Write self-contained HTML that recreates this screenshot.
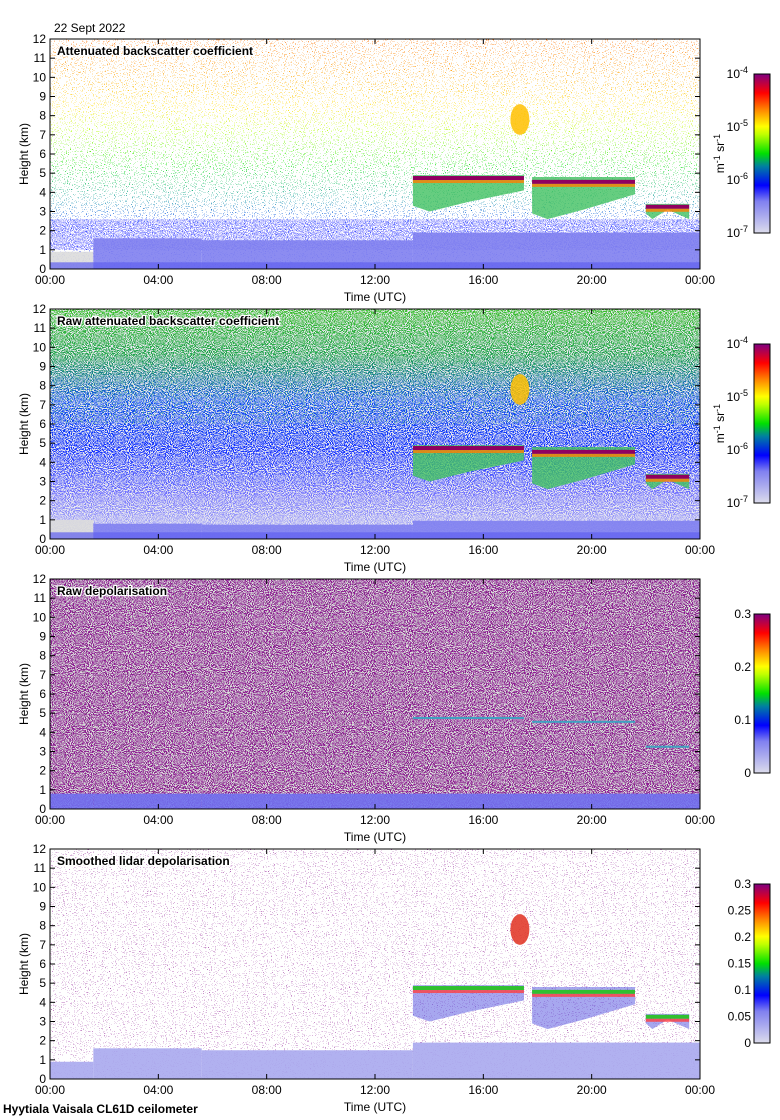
<!DOCTYPE html>
<html><head><meta charset="utf-8">
<style>
html,body{margin:0;padding:0;background:#fff;}
svg{display:block;font-family:"Liberation Sans",sans-serif;}
.t{font-size:12px;fill:#000}
.ttl{font-size:12px;font-weight:bold;fill:#000;stroke:#fff;stroke-width:2.5px;paint-order:stroke}
</style></head>
<body>
<svg id="fig" width="780" height="1120" viewBox="0 0 780 1120">
<defs>
  <filter id="n15" x="0" y="0" width="100%" height="100%" color-interpolation-filters="sRGB"><feTurbulence type="fractalNoise" baseFrequency="0.95" numOctaves="1" seed="3"/><feColorMatrix type="matrix" values="1 0 0 0 0 1 0 0 0 0 1 0 0 0 0 0 0 0 0 1"/><feComponentTransfer><feFuncR type="linear" slope="2.5" intercept="-0.75"/><feFuncG type="linear" slope="2.5" intercept="-0.75"/><feFuncB type="linear" slope="2.5" intercept="-0.75"/></feComponentTransfer><feComponentTransfer><feFuncR type="discrete" tableValues="0 0 0 0 0 0 0 0 1"/><feFuncG type="discrete" tableValues="0 0 0 0 0 0 0 0 1"/><feFuncB type="discrete" tableValues="0 0 0 0 0 0 0 0 1"/></feComponentTransfer></filter>
  <filter id="n50" x="0" y="0" width="100%" height="100%" color-interpolation-filters="sRGB"><feTurbulence type="fractalNoise" baseFrequency="0.95" numOctaves="1" seed="7"/><feColorMatrix type="matrix" values="1 0 0 0 0 1 0 0 0 0 1 0 0 0 0 0 0 0 0 1"/><feComponentTransfer><feFuncR type="discrete" tableValues="0 1"/><feFuncG type="discrete" tableValues="0 1"/><feFuncB type="discrete" tableValues="0 1"/></feComponentTransfer></filter>
  <filter id="n08" x="0" y="0" width="100%" height="100%" color-interpolation-filters="sRGB"><feTurbulence type="fractalNoise" baseFrequency="0.95" numOctaves="1" seed="11"/><feColorMatrix type="matrix" values="1 0 0 0 0 1 0 0 0 0 1 0 0 0 0 0 0 0 0 1"/><feComponentTransfer><feFuncR type="linear" slope="2.5" intercept="-0.75"/><feFuncG type="linear" slope="2.5" intercept="-0.75"/><feFuncB type="linear" slope="2.5" intercept="-0.75"/></feComponentTransfer><feComponentTransfer><feFuncR type="discrete" tableValues="0 0 0 0 0 0 0 0 0 0 0 0 0 0 1"/><feFuncG type="discrete" tableValues="0 0 0 0 0 0 0 0 0 0 0 0 0 0 1"/><feFuncB type="discrete" tableValues="0 0 0 0 0 0 0 0 0 0 0 0 0 0 1"/></feComponentTransfer></filter>
  <mask id="m15" maskUnits="userSpaceOnUse" x="0" y="0" width="780" height="1120"><rect x="0" y="0" width="780" height="1120" fill="#fff" filter="url(#n15)"/></mask>
  <mask id="m50" maskUnits="userSpaceOnUse" x="0" y="0" width="780" height="1120"><rect x="0" y="0" width="780" height="1120" fill="#fff" filter="url(#n50)"/></mask>
  <mask id="m08" maskUnits="userSpaceOnUse" x="0" y="0" width="780" height="1120"><rect x="0" y="0" width="780" height="1120" fill="#fff" filter="url(#n08)"/></mask>
  <linearGradient id="cbB" x1="0" y1="1" x2="0" y2="0">
    <stop offset="0" stop-color="#dcdcec"/><stop offset="0.2" stop-color="#8080f0"/><stop offset="0.3" stop-color="#0000ff"/>
    <stop offset="0.42" stop-color="#0080a0"/><stop offset="0.5" stop-color="#00e000"/><stop offset="0.62" stop-color="#c0ff00"/>
    <stop offset="0.67" stop-color="#ffff00"/><stop offset="0.78" stop-color="#ff8000"/><stop offset="0.88" stop-color="#ff0000"/>
    <stop offset="1" stop-color="#800080"/></linearGradient>
  <linearGradient id="g1" x1="0" y1="1" x2="0" y2="0">
    <stop offset="0" stop-color="#3030ff"/><stop offset="0.2" stop-color="#0030ff"/><stop offset="0.3" stop-color="#0090a0"/>
    <stop offset="0.45" stop-color="#00e000"/><stop offset="0.6" stop-color="#b0ff00"/><stop offset="0.7" stop-color="#ffe000"/>
    <stop offset="0.85" stop-color="#ffa000"/><stop offset="1" stop-color="#ff7000"/></linearGradient>
  <linearGradient id="g2" x1="0" y1="1" x2="0" y2="0">
    <stop offset="0" stop-color="#c0c0f4"/><stop offset="0.2" stop-color="#7070ff"/><stop offset="0.4" stop-color="#1030ff"/><stop offset="0.6" stop-color="#1050f0"/>
    <stop offset="0.8" stop-color="#20a050"/><stop offset="1" stop-color="#40c030"/></linearGradient>
</defs>
<g id="panels"></g>
<text class="t" x="54" y="32">22 Sept 2022</text>
<text class="t" x="3" y="1113" style="font-weight:bold">Hyytiala Vaisala CL61D ceilometer</text>
</svg>
<script>
// ---- data ----
const xTickLabels = ["00:00","04:00","08:00","12:00","16:00","20:00","00:00"];
const xTickHours = [0,4,8,12,16,20,24];
const yTickValues = [0,1,2,3,4,5,6,7,8,9,10,11,12];
const panelTitles = ["Attenuated backscatter coefficient","Raw attenuated backscatter coefficient","Raw depolarisation","Smoothed lidar depolarisation"];
const cbLabels1 = ["10","10","10","10"];
const cbExps1 = ["-7","-6","-5","-4"];
const cbLabels3 = ["0","0.1","0.2","0.3"];
const cbLabels4 = ["0","0.05","0.1","0.15","0.2","0.25","0.3"];
// boundary-layer segments: start hour, end hour, top height (km)
const blStart = [0, 1.6, 5.6, 13.4];
const blEnd   = [1.6, 5.6, 13.4, 24];
const blTop   = [0.9, 1.6, 1.5, 1.9];
// cloud layers: start, end, top, base, line height
const cloudStart = [13.4, 17.8, 22.0];
const cloudEnd   = [17.5, 21.6, 23.6];
const cloudTop   = [4.9, 4.8, 3.4];
const cloudBase  = [3.0, 2.6, 2.6];
const cloudLine  = [4.7, 4.5, 3.2];
// cirrus patch
const patchStart = [17.0], patchEnd = [17.7], patchTop = [8.6], patchBase = [7.0];

const NS = "http://www.w3.org/2000/svg";
const X0 = 50, X1 = 700, PH = 230;
const tops = [39, 309, 579, 849];
function xs(h){ return X0 + h/24*(X1-X0); }
function mk(tag, attrs, parent){ const e = document.createElementNS(NS, tag); for (const k in attrs) e.setAttribute(k, attrs[k]); parent.appendChild(e); return e; }
const root = document.getElementById('panels');

tops.forEach((top, p) => {
  const bot = top + PH;
  const ys = h => bot - h/12*PH;
  const g = mk('g', {}, root);
  
  
  const cp = mk('clipPath', {id: 'cp'+p}, g);
  mk('rect', {x: X0, y: top, width: X1-X0, height: PH}, cp);
  const plot = mk('g', {'clip-path': 'url(#cp'+p+')'}, g);
  
  
  const W = X1-X0;
  if (p === 0) {
    mk('rect', {x:X0, y:top, width:W, height:PH, fill:'url(#g1)', opacity:0.85, mask:'url(#m15)'}, plot);
    mk('rect', {x:X0, y:ys(2.6), width:W, height:ys(1)-ys(2.6), fill:'#3030ff', opacity:0.45, mask:'url(#m50)'}, plot);
  } else if (p === 1) {
    mk('rect', {x:X0, y:top, width:W, height:PH, fill:'#e8e8f0'}, plot);
    mk('rect', {x:X0, y:top, width:W, height:PH, fill:'url(#g2)', mask:'url(#m50)'}, plot);
    mk('rect', {x:X0, y:ys(12), width:W, height:ys(6)-ys(12), fill:'#30d030', opacity:0.6, mask:'url(#m15)'}, plot);
  } else if (p === 2) {
    mk('rect', {x:X0, y:top, width:W, height:PH, fill:'#dcdcdc'}, plot);
    mk('rect', {x:X0, y:top, width:W, height:PH, fill:'#85088a', opacity:0.9, mask:'url(#m50)'}, plot);
    mk('rect', {x:X0, y:top, width:W, height:PH, fill:'#30c030', opacity:0.3, mask:'url(#m08)'}, plot);
  } else {
    mk('rect', {x:X0, y:top, width:W, height:PH, fill:'#85088a', opacity:0.6, mask:'url(#m08)'}, plot);
  }
  // boundary layer
  blStart.forEach((s, i) => {
    let col = p===2 ? '#7070f0' : (i===0 && p<2 ? '#dcdcdc' : '#8080f0');
    let top2 = p===2 ? 0.8 : blTop[i];
    if (p===1 && i!==0) top2 = blTop[i]*0.5;
    if (p===1 && i===0) top2 = 1.0;
    const r = mk('rect', {x:xs(s), y:ys(top2), width:xs(blEnd[i])-xs(s), height:ys(0)-ys(top2), fill:col, opacity: 0.9}, plot);
    
    
    if (p===3) r.setAttribute('fill', '#a8a8ee');
  });
  if (p<2) mk('rect', {x:xs(0), y:ys(0.35), width:W, height:ys(0)-ys(0.35), fill:'#6060f0', opacity:0.7}, plot);
  // clouds
  cloudStart.forEach((s, i) => {
    const x0 = xs(s), x1 = xs(cloudEnd[i]);
    if (p === 2) {
      const l = mk('rect', {x:x0, y:ys(cloudLine[i]+0.1), width:x1-x0, height:2, fill:'#40a0c0'}, plot);
      
      
      return;
    }
    const body = mk('polygon', {points: `${x0},${ys(cloudTop[i])} ${x1},${ys(cloudTop[i])} ${x1},${ys(cloudLine[i]-0.6)} ${(x0+x1)/2},${ys(cloudBase[i]+0.5)} ${x0+ (x1-x0)*0.15},${ys(cloudBase[i])} ${x0},${ys(cloudBase[i]+0.3)}`,
      fill: p===3 ? '#5050e0' : '#40c060', opacity: p===3 ? 0.5 : 0.8}, plot);
    
    
    const line = mk('rect', {x:x0, y:ys(cloudLine[i]+0.15), width:x1-x0, height:4, fill: p===3 ? '#30c030' : '#900060'}, plot);
    
    
    mk('rect', {x:x0, y:ys(cloudLine[i]+0.15)+4, width:x1-x0, height:3, fill: p===3 ? '#ff4040' : '#ff8000', opacity:0.8}, plot);
  });
  if (p !== 2) patchStart.forEach((s, i) => {
    const e = mk('ellipse', {cx:(xs(s)+xs(patchEnd[i]))/2, cy:(ys(patchTop[i])+ys(patchBase[i]))/2, rx:(xs(patchEnd[i])-xs(s))/2, ry:(ys(patchBase[i])-ys(patchTop[i]))/2,
      fill: p===3 ? '#e03020' : '#ffc000', opacity:0.85}, plot);
    
    
  });
  // frame
  const fr = mk('rect', {x:X0, y:top, width:W, height:PH, fill:'none', stroke:'#000', 'stroke-width':1}, g);
  
  
  // y ticks
  yTickValues.forEach(v => {
    const y = ys(v);
    mk('line', {x1:X0, x2:X0+5, y1:y, y2:y, stroke:'#000'}, g);
    mk('line', {x1:X1-5, x2:X1, y1:y, y2:y, stroke:'#000'}, g);
    const t = mk('text', {x:X0-4, y:y+4, 'text-anchor':'end', class:'t'}, g);
    t.textContent = v;
    
    
  });
  xTickHours.forEach((h, i) => {
    const x = xs(h);
    mk('line', {x1:x, x2:x, y1:bot, y2:bot-5, stroke:'#000'}, g);
    mk('line', {x1:x, x2:x, y1:top, y2:top+5, stroke:'#000'}, g);
    const t = mk('text', {x:x, y:bot+15, 'text-anchor':'middle', class:'t'}, g);
    t.textContent = xTickLabels[i];
    
    
  });
  const xl = mk('text', {x:375, y:bot+32, 'text-anchor':'middle', class:'t'}, g);
  xl.textContent = 'Time (UTC)';
  
  
  const yl = mk('text', {x:0, y:0, 'text-anchor':'middle', class:'t', transform:`translate(28,${top+PH/2}) rotate(-90)`}, g);
  yl.textContent = 'Height (km)';
  
  
  const tt = mk('text', {x:57, y:top+16, class:'ttl'}, g);
  tt.textContent = panelTitles[p];
  
  
  // colorbar
  const cbT = top+35, cbB = top+194, cbX = 754, cbW = 16;
  const cb = mk('rect', {x:cbX, y:cbT, width:cbW, height:cbB-cbT, fill:'url(#cbB)', stroke:'#000'}, g);
  
  
  const labs = p<2 ? cbLabels1 : (p===2 ? cbLabels3 : cbLabels4);
  labs.forEach((l, i) => {
    const y = cbB - i/(labs.length-1)*(cbB-cbT);
    const t = mk('text', {x: cbX-3, y: y+4, 'text-anchor':'end', class:'t'}, g);
    t.textContent = l;
    
    
    if (p<2) {
      t.setAttribute('x', cbX-14);
      const s = mk('text', {x: cbX-14, y: y-1, style:'font-size:9px', class:'t'}, g);
      s.textContent = cbExps1[i];
    }
  });
  if (p<2) {
    const u = mk('text', {x:0, y:0, 'text-anchor':'middle', class:'t', transform:`translate(724,${(cbT+cbB)/2}) rotate(-90)`}, g);
    u.innerHTML = 'm<tspan dy="-4" style="font-size:9px">-1</tspan><tspan dy="4"> sr</tspan><tspan dy="-4" style="font-size:9px">-1</tspan>';
    
    
  }
});
</script>
</body></html>
